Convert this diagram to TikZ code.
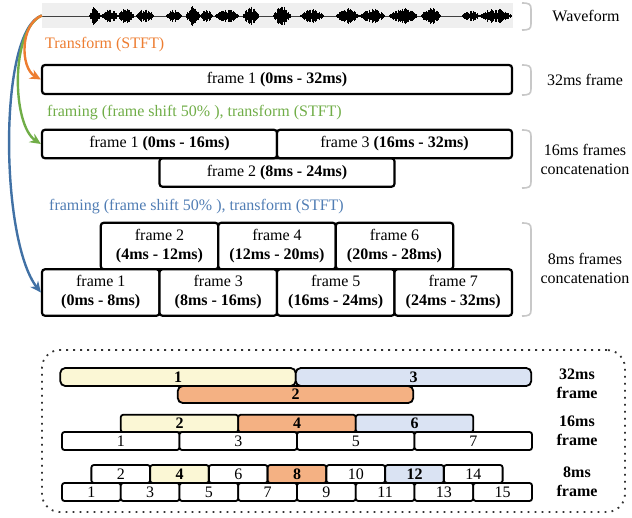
\documentclass[tikz,border=0pt]{standalone}
\usepackage{fontspec}
\setmainfont{Liberation Serif}
\usetikzlibrary{arrows.meta}
\definecolor{corange}{HTML}{ED7D31}
\definecolor{cgreen}{HTML}{70AD47}
\definecolor{cblue}{RGB}{65,113,165}
\definecolor{ctblue}{RGB}{80,125,180}
\definecolor{wavebg}{HTML}{EFEFEF}
\definecolor{brkgray}{HTML}{C8C8C8}
\definecolor{fyellow}{HTML}{FBF7D5}
\definecolor{forange}{HTML}{F4B183}
\definecolor{fblue}{HTML}{DAE3F3}
\newcommand\mybrack[2]{\draw[brk] (522,#1) .. controls (529,#1) and (531,#1+1) .. (531,#1+6) -- (531,#2-6) .. controls (531,#2-1) and (529,#2) .. (522,#2);}
\begin{document}
\begin{tikzpicture}[x=1pt,y=-1pt,font=\fontsize{16}{19}\selectfont,
  box/.style={draw=black,line width=2.2pt,rounded corners=3pt,fill=white,inner sep=0pt,align=center},
  w32/.style={box,minimum width=470,minimum height=29},
  w16/.style={box,minimum width=235,minimum height=28.5},
  w8/.style={box,minimum width=117.5,minimum height=46.5},
  bar/.style={draw=black,line width=1.8pt,rounded corners=2.5pt,inner sep=0pt,fill=white},
  b32/.style={bar,rounded corners=5pt,minimum width=235.5,minimum height=18},
  b16/.style={bar,minimum width=117.5,minimum height=17.5},
  b8/.style={bar,minimum width=58.75,minimum height=18},
  brk/.style={draw=brkgray,line width=1.6pt},
  arr/.style={line width=2.4pt,-{Stealth[length=11pt,width=10pt]}},
  lab/.style={inner sep=0pt,align=center},
  blab/.style={inner sep=0pt,align=center,font=\fontsize{16}{19}\selectfont\bfseries}]
\useasboundingbox (0,0) rectangle (632,517);
% waveform
\node (wave) [fill=wavebg,minimum width=471,minimum height=25,inner sep=0pt] at (277.5,15.5) {};
\draw[black!75,line width=1pt] (42,16) -- (512,16);
\pgfmathsetseed{7}
\foreach \a/\b/\amp in {89/101/9,101/118/6,118/134/7,136/154/7,166/182/6,186/200/10,200/213/6,215/239/6,243/259/9,273/291/9,300/324/6,336/360/7,360/385/7,389/417/9,421/441/8,462/480/5,480/512/8}{
  \pgfmathsetmacro\s{\a+0.6}
  \foreach \x in {\a,\s,...,\b}{
    \pgfmathsetmacro\h{0.8+\amp*(0.3+0.7*rnd)*sin(180*(\x-\a)/(\b-\a))}
    \draw[black,line width=0.9pt] (\x,16-\h) -- (\x,16+\h);
  }
}
\node (lwave) [lab] at (586,16) {Waveform};
\mybrack{3}{30}
% 32ms
\node (fr32) [w32] at (277,79.5) {frame 1 \textbf{(0ms - 32ms)}};
\node (l32) [lab] at (585,80) {32ms frame};
\mybrack{65}{95}
% 16ms
\node (f16b) [w16] at (277,172.5) {frame 2 \textbf{(8ms - 24ms)}};
\node (f16a) [w16] at (159.5,144) {frame 1 \textbf{(0ms - 16ms)}};
\node (f16c) [w16] at (394.5,144) {frame 3 \textbf{(16ms - 32ms)}};
\node (l16) [lab] at (585,159) {16ms frames\\concatenation};
\mybrack{130}{188}
% 8ms
\node (f8b) [w8] at (159.5,246) {frame 2\\\textbf{(4ms - 12ms)}};
\node (f8d) [w8] at (277,246) {frame 4\\\textbf{(12ms - 20ms)}};
\node (f8f) [w8] at (394.5,246) {frame 6\\\textbf{(20ms - 28ms)}};
\node (f8a) [w8] at (100.75,292.5) {frame 1\\\textbf{(0ms - 8ms)}};
\node (f8c) [w8] at (218.25,292.5) {frame 3\\\textbf{(8ms - 16ms)}};
\node (f8e) [w8] at (335.75,292.5) {frame 5\\\textbf{(16ms - 24ms)}};
\node (f8g) [w8] at (453.25,292.5) {frame 7\\\textbf{(24ms - 32ms)}};
\node (l8) [lab] at (585,268) {8ms frames\\concatenation};
\mybrack{223}{316}
% annotations and arrows
\node (t1) [lab,anchor=west,text=corange] at (45,45) {Transform (STFT)};
\node (t2) [lab,anchor=west,text=cgreen] at (47,113) {framing (frame shift 50\% ), transform (STFT)};
\node (t3) [lab,anchor=west,text=ctblue] at (49,207) {framing (frame shift 50\% ), transform (STFT)};
\draw[arr,cblue] (wave.west) .. controls (-2,30) and (0,240) .. (f8a.west);
\draw[arr,cgreen] (wave.west) .. controls (10,30) and (12,125) .. (f16a.west);
\draw[arr,corange] (wave.west) .. controls (20,24) and (20,68) .. (fr32.west);
% bottom group
\node (grp) [draw=black!80,line width=1.8pt,dash pattern=on 1.8pt off 5.2pt,rounded corners=18pt,minimum width=583,minimum height=162,inner sep=0pt] at (333.5,431) {};
\node (c2) [b32,fill=forange,minimum height=17] at (295.5,394.5) {\textbf{2}};
\node (c1) [b32,fill=fyellow] at (178,377) {\textbf{1}};
\node (c3) [b32,fill=fblue] at (413.5,377) {\textbf{3}};
\node (r32) [blab] at (577,383.5) {32ms\\frame};
% 16ms bottom
\node (d2) [b16,fill=fyellow] at (179.5,423.5) {\textbf{2}};
\node (d4) [b16,fill=forange] at (297,423.5) {\textbf{4}};
\node (d6) [b16,fill=fblue] at (414.5,423.5) {\textbf{6}};
\node (d1) [b16,minimum height=18] at (120.75,441) {1};
\node (d3) [b16,minimum height=18] at (238.25,441) {3};
\node (d5) [b16,minimum height=18] at (355.75,441) {5};
\node (d7) [b16,minimum height=18] at (473.25,441) {7};
\node (r16) [blab] at (577,430.5) {16ms\\frame};
% 8ms bottom
\node (e2) [b8] at (120.75,474) {2};
\node (e4) [b8,fill=fyellow] at (179.5,474) {\textbf{4}};
\node (e6) [b8] at (238.25,474) {6};
\node (e8) [b8,fill=forange] at (297,474) {\textbf{8}};
\node (e10) [b8] at (355.75,474) {10};
\node (e12) [b8,fill=fblue] at (414.5,474) {\textbf{12}};
\node (e14) [b8] at (473.25,474) {14};
\node (e1) [b8] at (91.375,492) {1};
\node (e3) [b8] at (150.125,492) {3};
\node (e5) [b8] at (208.875,492) {5};
\node (e7) [b8] at (267.625,492) {7};
\node (e9) [b8] at (326.375,492) {9};
\node (e11) [b8] at (385.125,492) {11};
\node (e13) [b8] at (443.875,492) {13};
\node (e15) [b8] at (502.625,492) {15};
\node (r8) [blab] at (577,481.5) {8ms\\frame};
\end{tikzpicture}
\end{document}
